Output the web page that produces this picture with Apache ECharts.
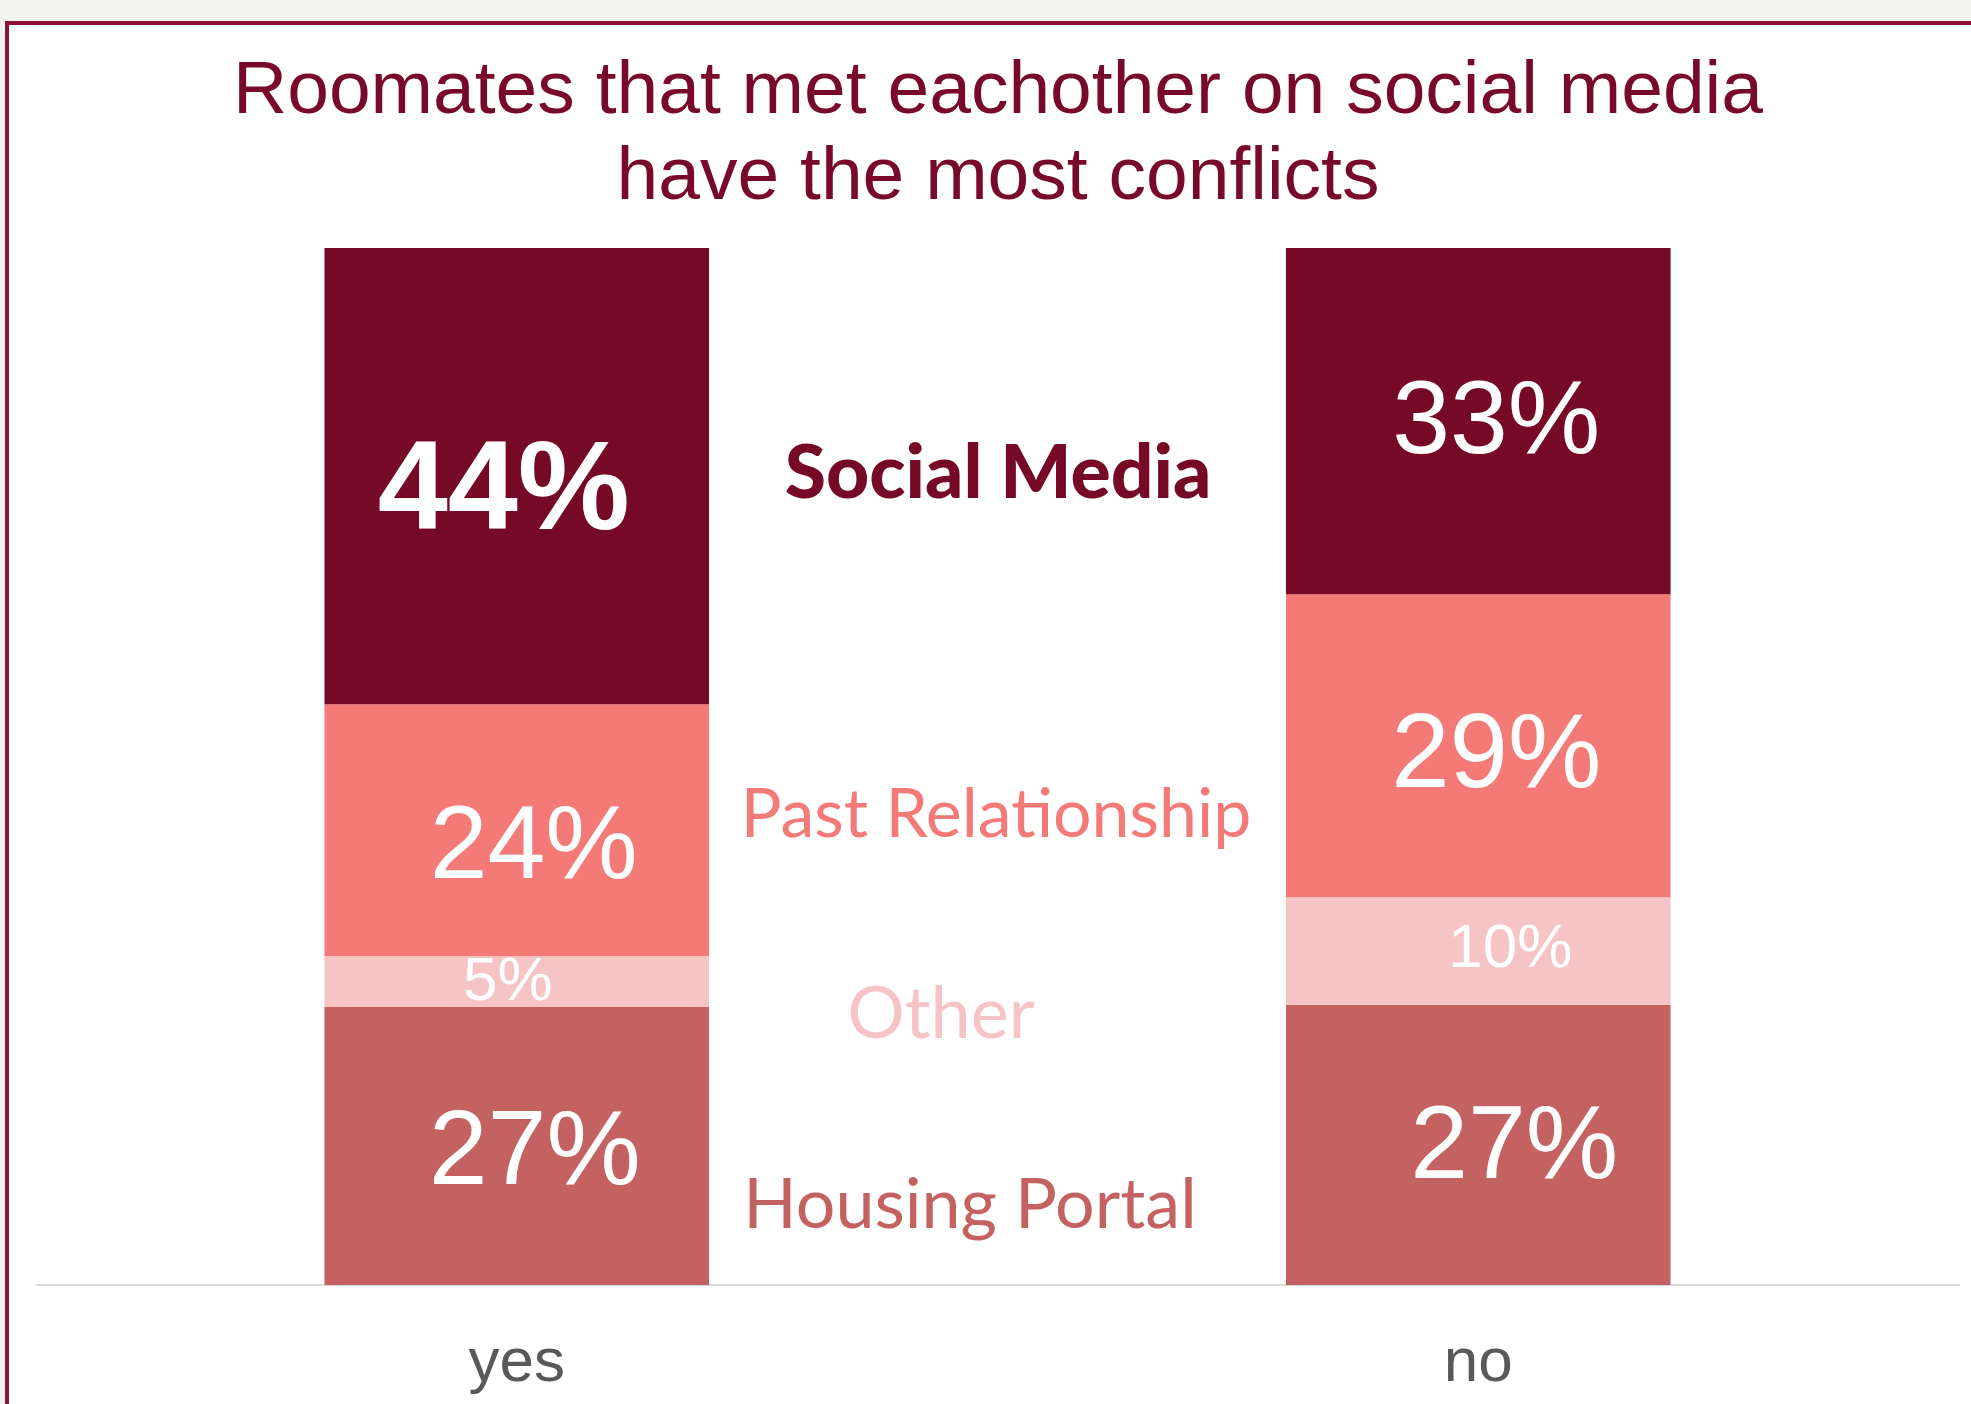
<!DOCTYPE html>
<html>
<head>
<meta charset="utf-8">
<script src="https://cdn.jsdelivr.net/npm/echarts@6/dist/echarts.min.js"></script>
<style>
  html, body { margin: 0; padding: 0; background: #f2f2f0; overflow: hidden; }
  #frame { position: absolute; left: 5px; top: 21px; width: 2100px; height: 1500px;
           background: #ffffff; border-top: 4px solid #8a1538; border-left: 4px solid #8a1538; }
  #chart { position: absolute; left: 0; top: 0; width: 1971px; height: 1404px; }
</style>
</head>
<body>
<div id="frame"></div>
<div id="chart"></div>
<script>
// ---- data ----
const categories = ['yes', 'no'];
const seriesNames = ['Housing Portal', 'Other', 'Past Relationship', 'Social Media'];
const housingPortal = [26.8, 27.0];
const other = [4.9, 10.4];
const pastRelationship = [24.3, 29.2];
const socialMedia = [44.0, 33.4];
const titleText = 'Roomates that met eachother on social media\nhave the most conflicts';

// ---- styles ----
const colors = ['#c46261', '#f6c4c4', '#f47a78', '#760a26'];
// per-series, per-category label style: [fontSize, fontWeight, offsetX, offsetY]
const labelStyles = [
  [[106, 'normal', 18, 9], [104, 'normal', 36, 4]],
  [[62, 'normal', -9, 1], [62, 'normal', 32, -1]],
  [[104, 'normal', 17, 19], [105, 'normal', 18, 12]],
  [[126, 'bold', -13, 18], [104, 'normal', 18, 3]]
];
const nameLabels = [
  { x: 998, y: 474, size: 75, weight: 900 },
  { x: 996, y: 815, size: 68, weight: 'normal' },
  { x: 941, y: 1015, size: 72, weight: 'normal' },
  { x: 970, y: 1205, size: 70, weight: 'normal' }
];
const nameOrder = [3, 2, 1, 0];

const seriesData = [housingPortal, other, pastRelationship, socialMedia];

const chart = echarts.init(document.getElementById('chart'), null, { renderer: 'canvas' });

const series = seriesData.map((vals, si) => ({
  name: seriesNames[si],
  type: 'bar',
  stack: 'total',
  barWidth: '40%',
  itemStyle: { color: colors[si] },
  data: vals.map((v, ci) => ({
    value: v,
    label: {
      show: true,
      position: 'inside',
      color: '#ffffff',
      fontFamily: 'Liberation Sans, Arial, sans-serif',
      fontSize: labelStyles[si][ci][0],
      fontWeight: labelStyles[si][ci][1],
      offset: [labelStyles[si][ci][2], labelStyles[si][ci][3]],
      formatter: (p) => Math.round(p.value) + '%'
    }
  }))
}));

const graphics = seriesNames.map((n, si) => {
  const cfg = nameLabels[nameOrder.indexOf(si)];
  return {
    type: 'text',
    silent: true,
    style: {
      text: n,
      x: cfg.x,
      y: cfg.y,
      align: 'center',
      verticalAlign: 'middle',
      fill: colors[si],
      font: (cfg.weight === 900 ? '900 ' : '') + cfg.size + 'px Lato, "Noto Sans", sans-serif'
    }
  };
});

chart.setOption({
  backgroundColor: 'transparent',
  animation: false,
  title: {
    text: titleText,
    left: 998,
    top: 49,
    padding: 0,
    textAlign: 'center',
    textStyle: {
      color: '#78092a',
      fontFamily: 'Liberation Sans, Arial, sans-serif',
      fontSize: 75,
      fontWeight: 'normal',
      lineHeight: 86
    }
  },
  grid: { left: 36, right: 12, top: 248, bottom: 119, containLabel: false },
  xAxis: {
    type: 'category',
    data: categories,
    axisLine: { show: true, lineStyle: { color: '#d9d9d9', width: 2 } },
    axisTick: { show: false },
    axisLabel: {
      margin: 48,
      color: '#595959',
      fontSize: 62,
      fontFamily: 'Liberation Sans, Arial, sans-serif'
    }
  },
  yAxis: {
    type: 'value',
    min: 0,
    max: 100,
    show: false,
    splitLine: { show: false }
  },
  series: series,
  graphic: graphics
});
</script>
</body>
</html>
